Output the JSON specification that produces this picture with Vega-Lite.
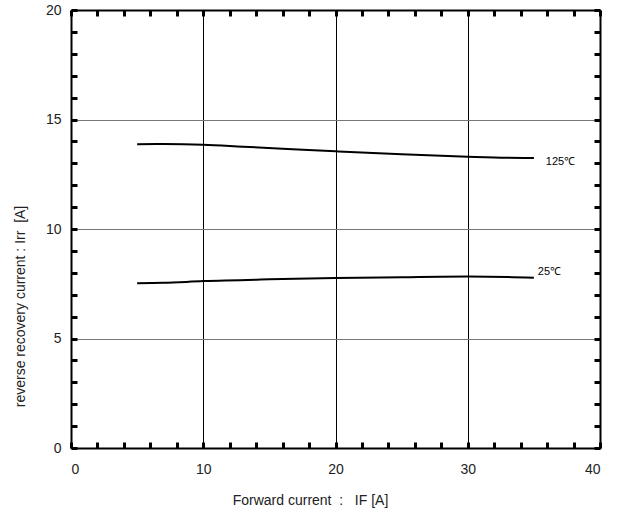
{
  "$schema": "https://vega.github.io/schema/vega-lite/v6.json",
  "width": 529,
  "height": 438,
  "autosize": {"type": "none"},
  "padding": {"left": 71, "top": 10, "right": 22, "bottom": 67},
  "background": "white",
  "config": {
    "view": {"stroke": null},
    "font": "Liberation Sans",
    "axis": {"labelFont": "Liberation Sans", "titleFont": "Liberation Sans", "titleFontWeight": "normal", "labelColor": "#222", "titleColor": "#222"}
  },
  "datasets": {
    "curves": [
      {"IF": 5, "Irr": 13.87, "T": "125℃"},
      {"IF": 7, "Irr": 13.88, "T": "125℃"},
      {"IF": 10, "Irr": 13.85, "T": "125℃"},
      {"IF": 13, "Irr": 13.76, "T": "125℃"},
      {"IF": 16, "Irr": 13.67, "T": "125℃"},
      {"IF": 20, "Irr": 13.55, "T": "125℃"},
      {"IF": 25, "Irr": 13.41, "T": "125℃"},
      {"IF": 30, "Irr": 13.3, "T": "125℃"},
      {"IF": 33, "Irr": 13.25, "T": "125℃"},
      {"IF": 35, "Irr": 13.24, "T": "125℃"},
      {"IF": 5, "Irr": 7.52, "T": "25℃"},
      {"IF": 7, "Irr": 7.54, "T": "25℃"},
      {"IF": 10, "Irr": 7.62, "T": "25℃"},
      {"IF": 15, "Irr": 7.7, "T": "25℃"},
      {"IF": 20, "Irr": 7.76, "T": "25℃"},
      {"IF": 25, "Irr": 7.8, "T": "25℃"},
      {"IF": 30, "Irr": 7.83, "T": "25℃"},
      {"IF": 33, "Irr": 7.81, "T": "25℃"},
      {"IF": 35, "Irr": 7.77, "T": "25℃"}
    ],
    "labels": [
      {"IF": 35.9, "Irr": 13.05, "T": "125℃"},
      {"IF": 35.3, "Irr": 8.02, "T": "25℃"}
    ]
  },
  "layer": [
    {
      "data": {"name": "curves"},
      "mark": {"type": "line", "color": "black", "strokeWidth": 2, "interpolate": "monotone"},
      "encoding": {
        "x": {
          "field": "IF", "type": "quantitative",
          "scale": {"domain": [0, 40], "nice": false, "zero": false},
          "axis": {
            "orient": "bottom",
            "values": [0,2,4,6,8,10,12,14,16,18,20,22,24,26,28,30,32,34,36,38,40],
            "labelExpr": "datum.value % 10 == 0 ? datum.label : ''",
            "labelFontSize": 14,
            "labelPadding": 20,
            "tickSize": -6,
            "tickWidth": 3,
            "tickColor": "black",
            "domainColor": "black",
            "domainWidth": 2,
            "grid": true,
            "gridColor": "black",
            "gridWidth": 1,
            "gridOpacity": {"condition": {"test": "datum.value % 10 == 0 && datum.value > 0 && datum.value < 40", "value": 1}, "value": 0},
            "title": "Forward current\u00a0 :\u00a0\u00a0 IF [A]",
            "titleFontSize": 14,
            "titleX": 239,
            "titleY": 52,
            "titleAlign": "center",
            "titleBaseline": "middle"
          }
        },
        "y": {
          "field": "Irr", "type": "quantitative",
          "scale": {"domain": [0, 20], "nice": false, "zero": false},
          "axis": {
            "orient": "left",
            "values": [0,1,2,3,4,5,6,7,8,9,10,11,12,13,14,15,16,17,18,19,20],
            "labelExpr": "datum.value % 5 == 0 ? datum.label : ''",
            "labelFontSize": 14,
            "labelPadding": 16,
            "tickSize": -6,
            "tickWidth": 3,
            "tickColor": "black",
            "domainColor": "black",
            "domainWidth": 2,
            "grid": true,
            "gridColor": "#777",
            "gridWidth": 1,
            "gridOpacity": {"condition": {"test": "datum.value % 5 == 0 && datum.value > 0 && datum.value < 20", "value": 1}, "value": 0},
            "title": "reverse recovery current : Irr\u00a0 [A]",
            "titleFontSize": 14,
            "titleX": -51,
            "titleY": 296,
            "titleAngle": -90,
            "titleAlign": "center",
            "titleBaseline": "middle"
          }
        },
        "detail": {"field": "T", "type": "nominal"}
      }
    },
    {
      "data": {"name": "labels"},
      "mark": {"type": "text", "align": "left", "baseline": "middle", "fontSize": 11, "color": "black", "font": "Liberation Sans"},
      "encoding": {
        "x": {
          "field": "IF", "type": "quantitative",
          "axis": {
            "orient": "top",
            "values": [0,2,4,6,8,10,12,14,16,18,20,22,24,26,28,30,32,34,36,38,40],
            "labels": false,
            "tickSize": -6,
            "tickWidth": 3,
            "tickColor": "black",
            "domainColor": "black",
            "domainWidth": 2,
            "grid": false,
            "title": null
          }
        },
        "y": {
          "field": "Irr", "type": "quantitative",
          "axis": {
            "orient": "right",
            "values": [0,1,2,3,4,5,6,7,8,9,10,11,12,13,14,15,16,17,18,19,20],
            "labels": false,
            "tickSize": -6,
            "tickWidth": 3,
            "tickColor": "black",
            "domainColor": "black",
            "domainWidth": 2,
            "grid": false,
            "title": null
          }
        },
        "text": {"field": "T", "type": "nominal"}
      }
    }
  ],
  "resolve": {"axis": {"x": "independent", "y": "independent"}}
}
